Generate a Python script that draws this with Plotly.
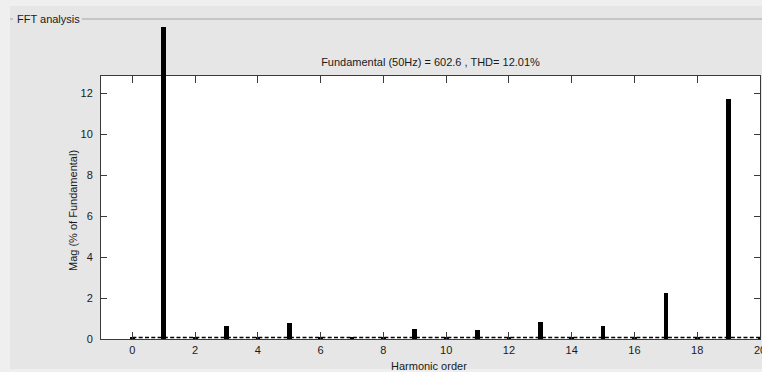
import plotly.graph_objects as go

# ---- data ----
harmonic_order = list(range(0, 21))
magnitude_pct = [0.05, 100.0, 0.05, 0.65, 0.05, 0.80, 0.05, 0.10, 0.05, 0.50, 0.05,
                 0.42, 0.05, 0.83, 0.05, 0.65, 0.05, 2.26, 0.05, 11.71, 0.05]
noise_floor_x = [0, 20]
noise_floor_y = [0.07, 0.07]
x_ticks = list(range(0, 21, 2))
y_ticks = list(range(0, 13, 2))
title_text = "Fundamental (50Hz) = 602.6 , THD= 12.01%"
panel_title = "FFT analysis"

# ---- layout geometry ----
W, H = 762, 372
ML, MR, MT, MB = 101, 2, 27, 33
PW, PH = W - ML - MR, H - MT - MB
Y_MAIN_TOP_PX = 76
y_main_dom = (339 - Y_MAIN_TOP_PX) / PH
y_top = 12.85
px_per_unit = (339 - Y_MAIN_TOP_PX) / y_top
y2_top = y_top + (Y_MAIN_TOP_PX - MT) / px_per_unit

def px_x(px):
    return (px - ML) / PW

def px_y(py):
    return (H - MB - py) / PH

FONT = "Liberation Sans, Arial"
FS = 11
TXT = "#1a1a1a"

fig = go.Figure()
for xa, ya in (("x", "y"), ("x2", "y2")):
    fig.add_trace(go.Bar(x=harmonic_order, y=magnitude_pct, width=0.15,
                         marker=dict(color="black", line=dict(width=0)),
                         xaxis=xa, yaxis=ya, showlegend=False))
fig.add_trace(go.Scatter(x=noise_floor_x, y=noise_floor_y, mode="lines",
                         line=dict(color="black", width=1.6, dash="4px,2.3px"),
                         showlegend=False, xaxis="x", yaxis="y"))

axis_col = "#3a3a3a"
fig.update_layout(
    width=W, height=H,
    margin=dict(l=ML, r=MR, t=MT, b=MB, pad=0, autoexpand=False),
    paper_bgcolor="#EFEFEF",
    plot_bgcolor="rgba(0,0,0,0)",
    font=dict(family=FONT, size=FS, color=TXT),
    bargap=0,
    title=dict(text=title_text, x=0.5, xref="paper", xanchor="center",
               y=1 - 62 / H, yref="container", yanchor="middle",
               font=dict(family=FONT, size=FS, color=TXT)),
    xaxis=dict(range=[-1, 20], domain=[0, 1], tickvals=x_ticks,
               ticks="inside", ticklen=7, tickcolor=axis_col, tickwidth=1,
               showline=True, linecolor=axis_col, linewidth=1, mirror="ticks",
               showgrid=False, zeroline=False, ticklabelstandoff=1,
               ticklabeloverflow="allow", automargin=False,
               tickfont=dict(size=FS)),
    yaxis=dict(range=[0, y_top], domain=[0, y_main_dom], tickvals=y_ticks,
               ticks="inside", ticklen=6, tickcolor=axis_col, tickwidth=1,
               showline=True, linecolor=axis_col, linewidth=1, mirror="ticks",
               showgrid=False, zeroline=False, ticklabelstandoff=5,
               automargin=False, tickfont=dict(size=FS)),
    xaxis2=dict(range=[-1, 20], domain=[0, 1], anchor="y2", visible=False,
                showgrid=False, zeroline=False, automargin=False),
    yaxis2=dict(range=[y_top, y2_top], domain=[y_main_dom, 1], anchor="x2",
                visible=False, showgrid=False, zeroline=False, automargin=False),
    shapes=[
        dict(type="rect", xref="paper", yref="paper", layer="below",
             x0=px_x(10), x1=px_x(770), y0=px_y(369), y1=px_y(6),
             fillcolor="#E6E6E6", line=dict(width=0)),
        dict(type="rect", xref="paper", yref="paper", layer="below",
             x0=0, x1=1, y0=0, y1=y_main_dom,
             fillcolor="white", line=dict(width=0)),
        dict(type="line", xref="paper", yref="paper",
             x0=px_x(82), x1=px_x(770), y0=px_y(19), y1=px_y(19),
             line=dict(color="#A4A4A4", width=1)),
        dict(type="line", xref="paper", yref="paper",
             x0=px_x(10), x1=px_x(13), y0=px_y(19), y1=px_y(19),
             line=dict(color="#A4A4A4", width=1)),
    ],
    annotations=[
        dict(text=panel_title, xref="paper", yref="paper", x=px_x(15), y=px_y(19),
             xanchor="left", yanchor="middle", showarrow=False,
             font=dict(family=FONT, size=FS, color=TXT)),
        dict(text="Mag (% of Fundamental)", xref="paper", yref="paper",
             x=px_x(73), y=px_y(211), textangle=-90, xanchor="center",
             yanchor="middle", showarrow=False,
             font=dict(family=FONT, size=FS, color=TXT)),
        dict(text="Harmonic order", xref="paper", yref="paper",
             x=px_x(429), y=px_y(366), xanchor="center", yanchor="middle",
             showarrow=False, font=dict(family=FONT, size=FS, color=TXT)),
    ],
)

fig.write_html("out.html")
